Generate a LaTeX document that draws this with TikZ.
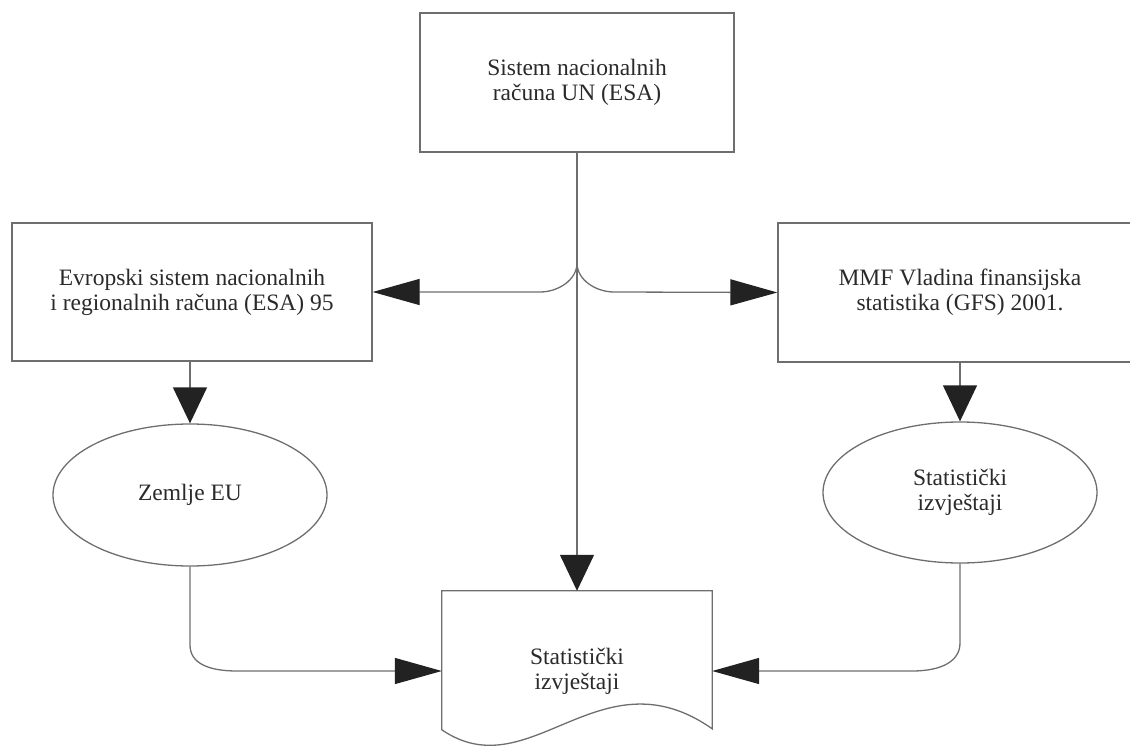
\documentclass[tikz,border=0pt]{standalone}
\usepackage{fontspec}
\setmainfont{Liberation Serif}
\usetikzlibrary{arrows.meta,shapes.geometric}
\definecolor{linegray}{HTML}{6E6E6E}
\definecolor{textgray}{HTML}{2A2A2A}
\definecolor{tipdark}{HTML}{222222}
\begin{document}
\begin{tikzpicture}[x=1pt,y=-1pt,
  every node/.style={text=textgray,font=\fontsize{23.5}{25}\selectfont,align=center,inner sep=0pt},
  boxnode/.style={draw=linegray,line width=1.3pt,rectangle},
  ellnode/.style={draw=linegray,line width=1.3pt,ellipse,minimum width=274pt,minimum height=142pt},
  conn/.style={draw=linegray,line width=1.3pt},
  vtip/.style={conn,-{Triangle[length=36pt,width=34pt,color=tipdark]}},
  htip/.style={conn,-{Triangle[length=47pt,width=26pt,color=tipdark]}}]
\useasboundingbox (0,0) rectangle (1130,749);
\node[boxnode,minimum width=314pt,minimum height=139pt] (top) at (577,82.5) {Sistem nacionalnih\\računa UN (ESA)};
\node[boxnode,minimum width=360pt,minimum height=138pt] (lbox) at (192,292) {Evropski sistem nacionalnih\\i regionalnih računa (ESA) 95};
\node[boxnode,minimum width=364pt,minimum height=139pt] (rbox) at (960,292.5) {MMF Vladina finansijska\\statistika (GFS) 2001.};
\node[ellnode] (lell) at (190,495) {Zemlje EU};
\node[ellnode,minimum height=141pt] (rell) at (960,492.5) {Statistički\\izvještaji};
\node[minimum width=270pt,minimum height=160pt] (doc) at (577,671) {Statistički\\izvještaji};
\draw[conn] (doc.north west) -- (doc.north east) -- ([yshift=-138pt]doc.north east)
  .. controls (600,650) and (530,790) .. ([yshift=-139pt]doc.north west) -- cycle;
\coordinate (split) at (577,263);
\coordinate (lbend) at (190,645);
\coordinate (rbend) at (960,643);
\draw[vtip] (top.south) -- (doc.north);
\draw[htip] (split) .. controls (577,280) and (558,292) .. (540,292) -- (lbox.east);
\draw[htip] (split) .. controls (577,280) and (596,292) .. (614,292) -- (rbox.west);
\draw[vtip] (lell.north |- lbox.south) -- (lell.north);
\draw[vtip] (rell.north |- rbox.south) -- (rell.north);
\draw[htip] (lell.south) -- (lbend) .. controls (190,663) and (208,671) .. (237,671) -- (doc.west);
\draw[htip] (rell.south) -- (rbend) .. controls (960,661) and (942,671) .. (912,671) -- (doc.east);
\end{tikzpicture}
\end{document}
